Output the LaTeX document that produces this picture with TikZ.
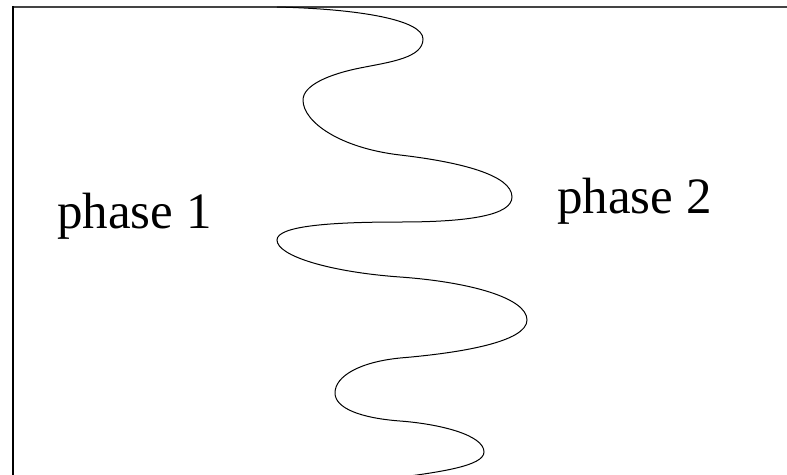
\documentclass[tikz,border=0pt]{standalone}
\usepackage{fontspec}
\setmainfont{Liberation Serif}
\usepackage{tikz}
\usetikzlibrary{positioning}
\definecolor{framegray}{RGB}{68,68,68}
\tikzset{
  phaselbl/.style={font=\fontsize{51}{60}\selectfont, inner sep=0pt, anchor=base west},
  iface/.style={black, line width=1pt},
  topln/.style={framegray, line width=2pt},
  leftln/.style={black, line width=1.3pt},
}

\begin{document}
\begin{tikzpicture}[x=1pt, y=-1pt]
        \useasboundingbox (0,0) rectangle (787,474);
        \clip (0,0) rectangle (787,474);
        % container edges
        \draw[topln] (13,7) -- (790,7);
        \draw[leftln] (13,6) -- (13,480);
        % wavy phase boundary
        \draw[iface] (277,7) .. controls (360,9) and (423,20) .. (423,39)
          .. controls (423,58) and (390,62) .. (360,68)
          .. controls (330,74) and (303,85) .. (303,100)
          .. controls (303,122) and (340,148) .. (400,155)
          .. controls (460,162) and (512,175) .. (512,197)
          .. controls (512,215) and (470,222) .. (400,222)
          .. controls (330,222) and (277,226) .. (277,240)
          .. controls (277,256) and (330,272) .. (400,277)
          .. controls (470,282) and (527,298) .. (527,320)
          .. controls (527,342) and (460,353) .. (400,358)
          .. controls (360,362) and (335,376) .. (335,393)
          .. controls (335,408) and (360,418) .. (400,421)
          .. controls (440,424) and (484,435) .. (484,452)
          .. controls (484,466) and (440,472) .. (395,478);
        \node[phaselbl] (p1) at (57,228) {phase 1};
        \node[phaselbl] (p2) at (557,213) {phase 2};
      \end{tikzpicture}
\end{document}
